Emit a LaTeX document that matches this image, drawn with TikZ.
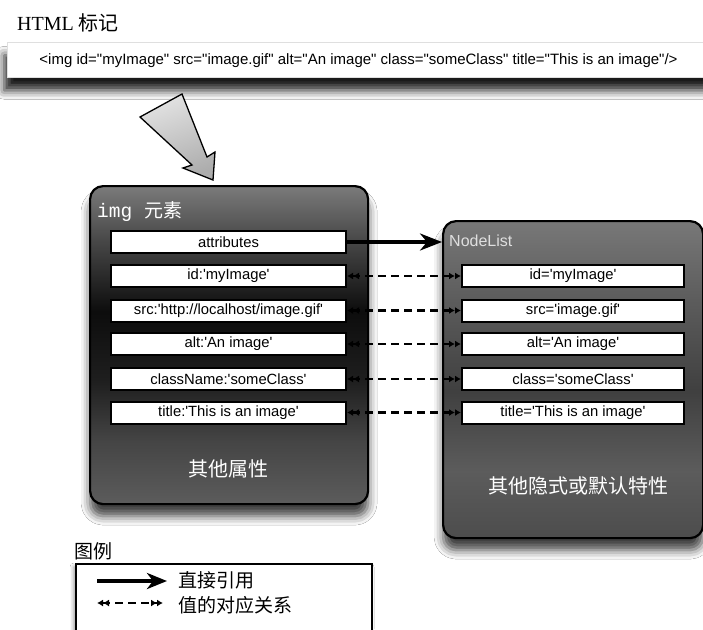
\documentclass[tikz,border=0pt]{standalone}
\usepackage{fontspec}
\setmainfont{Liberation Serif}
\setsansfont{Liberation Sans}
\setmonofont{Liberation Mono}
\newfontfamily\cjk{Noto Sans CJK SC}
\newfontfamily\lab{Liberation Sans}
\usetikzlibrary{arrows.meta,shadows.blur}

\definecolor{lb0}{gray}{0.48}
\definecolor{lb1}{gray}{0.28}
\definecolor{lb2}{gray}{0.05}
\definecolor{lb3}{gray}{0.12}
\definecolor{lb4}{gray}{0.27}
\definecolor{lb5}{gray}{0.36}
\pgfdeclareverticalshading{leftbox}{100bp}{color(0bp)=(lb5); color(25bp)=(lb5); color(34.9bp)=(lb4); color(44.3bp)=(lb3); color(55.3bp)=(lb2); color(66.4bp)=(lb1); color(75bp)=(lb0); color(100bp)=(lb0)}

\definecolor{rb0}{gray}{0.47}
\definecolor{rb1}{gray}{0.36}
\definecolor{rb2}{gray}{0.25}
\definecolor{rb3}{gray}{0.36}
\definecolor{rb4}{gray}{0.30}
\pgfdeclareverticalshading{rightbox}{100bp}{color(0bp)=(rb4); color(25bp)=(rb4); color(35.6bp)=(rb3); color(48.2bp)=(rb2); color(62.4bp)=(rb1); color(75bp)=(rb0); color(100bp)=(rb0)}

\begin{document}
\begin{tikzpicture}[x=1pt,y=-1pt,
  lbl/.style={draw=black,line width=2pt,fill=white,minimum width=235pt,minimum height=22pt,inner sep=0pt,font=\lab\fontsize{14.8}{16}\selectfont},
  rlbl/.style={lbl,minimum width=222pt},
  bigbox/.style={draw=black,line width=2.2pt,rounded corners=13pt,inner sep=0pt,anchor=north west,
    blur shadow={shadow xshift=0pt,shadow yshift=-12pt,shadow blur radius=9pt,shadow opacity=75}},
  refarrow/.style={line width=3.4pt,-{Stealth[length=22pt,width=17pt,inset=7pt]}},
  valarrow/.style={line width=2.4pt,dash pattern=on 8pt off 5pt,
    {Latex[length=6pt,width=7pt]Latex[length=6pt,width=7pt]}-{Latex[length=6pt,width=7pt]Latex[length=6pt,width=7pt]}},
  cjkw/.style={text=white,font=\cjk\fontsize{20}{24}\selectfont,inner sep=0pt},
  cjkb/.style={text=black,font=\cjk\fontsize{19}{23}\selectfont,inner sep=0pt,anchor=west}
]
\useasboundingbox (0,0) rectangle (703,629);
\fill[white] (0,0) rectangle (703,629);

% title
\node[anchor=west,inner sep=0pt,font=\rmfamily\fontsize{20}{24}\selectfont] (title) at (17,23) {HTML {\cjk 标记}};

% top bar
\node[draw=gray!25,line width=0.6pt,fill=white,anchor=north west,minimum width=720pt,minimum height=35pt,inner sep=0pt,
  blur shadow={shadow xshift=-3pt,shadow yshift=-13pt,shadow blur radius=9pt,shadow opacity=90}] (bar) at (7,42) {};
\node[inner sep=0pt,font=\lab\fontsize{15}{16}\selectfont] (code) at (358.5,61)
  {<img id="myImage" src="image.gif" alt="An image" class="someClass" title="This is an image"/>};

% big arrow
\draw[line width=1.3pt,top color=gray!22,bottom color=gray!65,shading angle=20]
  (140,117) -- (182,94) -- (207,157) -- (215,152) -- (213,180) -- (183,168) -- (192,165) -- cycle;

% boxes
\node[bigbox,shading=leftbox,minimum width=278pt,minimum height=318pt] (L) at (89,185) {};
\node[bigbox,shading=rightbox,minimum width=260pt,minimum height=317pt] (R) at (442,220) {};

\node[anchor=west,inner sep=0pt,text=white] (imgl) at (97,212)
  {\ttfamily\fontsize{19.5}{22}\selectfont img\ {\cjk\fontsize{19}{22}\selectfont 元素}};
\node[anchor=west,inner sep=0pt,text=gray!25,font=\lab\fontsize{16}{18}\selectfont] (nl) at (449,241) {NodeList};

\node[cjkw] (other1) at (228,469) {其他属性};
\node[cjkw] (other2) at (578,486) {其他隐式或默认特性};

% left labels
\node[lbl] (la) at (228.5,242) {attributes};
\node[lbl] (l1) at (228.5,276) {id:'myImage'};
\node[lbl] (l2) at (228.5,310.5) {src:'http://localhost/image.gif'};
\node[lbl] (l3) at (228.5,344) {alt:'An image'};
\node[lbl] (l4) at (228.5,379) {className:'someClass'};
\node[lbl] (l5) at (228.5,412.5) {title:'This is an image'};

% right labels
\node[rlbl] (r1) at (573,276) {id='myImage'};
\node[rlbl] (r2) at (573,310.5) {src='image.gif'};
\node[rlbl] (r3) at (573,344) {alt='An image'};
\node[rlbl] (r4) at (573,379) {class='someClass'};
\node[rlbl] (r5) at (573,412.5) {title='This is an image'};

% connectors
\draw[refarrow] (la.east) -- (la.east -| R.west);
\foreach \i in {1,...,5} {
  \draw[valarrow] (l\i.east) -- (r\i.west);
}

% legend
\node[cjkb] (legt) at (74,551) {图例};
\node[draw=black,line width=2pt,fill=white,anchor=north west,minimum width=296pt,minimum height=90pt,inner sep=0pt,
  blur shadow={shadow xshift=-2pt,shadow yshift=-3pt,shadow blur radius=4pt,shadow opacity=45}] (leg) at (75,563) {};
\coordinate (s1) at (97,581);
\coordinate (e1) at (167,581);
\coordinate (s2) at (97,603);
\coordinate (e2) at (163,603);
\draw[line width=3.6pt,-{Stealth[length=20pt,width=16pt,inset=6pt]}] (s1) -- (e1);
\draw[valarrow] (s2) -- (e2);
\node[cjkb] (leg1) at (178,580) {直接引用};
\node[cjkb] (leg2) at (178,605) {值的对应关系};
\end{tikzpicture}
\end{document}
